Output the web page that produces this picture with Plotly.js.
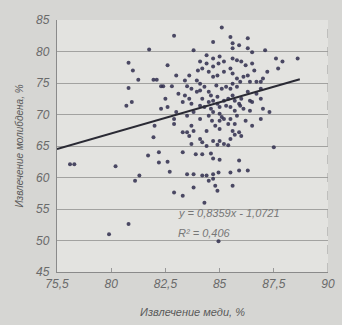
<!DOCTYPE html>
<html>
<head>
<meta charset="utf-8">
<script src="https://cdn.plot.ly/plotly-3.0.1.min.js"></script>
<style>
html,body{margin:0;padding:0;background:#d6d6d3;}
#chart{width:342px;height:325px;}
</style>
</head>
<body>
<div id="chart"></div>
<script>
var copperX = [78.1,78.3,80.2,79.9,80.8,81.1,81.3,80.8,81.0,81.25,80.8,80.7,80.95,81.75,82.9,81.95,82.1,82.6,82.3,82.4,82.8,82.0,81.95,81.7,82.2,82.2,82.6,82.7,82.5,82.3,82.6,83.0,83.1,82.9,82.9,83.3,83.5,82.9,83.3,83.8,83.8,85.1,84.7,85.5,85.6,86.3,87.1,87.6,87.9,87.7,88.6,86.9,87.0,87.3,86.9,87.5,85.9,85.9,86.3,85.5,84.95,84.7,85.6,84.3,84.95,84.7,84.8,84.9,84.4,84.5,83.8,84.2,83.9,84.2,83.7,84.2,84.4,84.7,84.9,85.0,85.2,85.0,85.5,85.7,85.9,86.0,85.4,83.8,83.7,84.4,84.8,84.1,83.8,83.5,84.7,85.0,85.2,85.5,85.7,85.0,86.1,86.4,86.0,86.4,84.1,84.4,84.7,85.0,85.2,85.6,85.8,86.0,86.2,86.5,86.6,84.2,84.5,84.7,84.9,85.2,85.5,85.6,85.8,85.95,86.1,86.3,86.4,86.7,86.9,83.95,84.1,83.7,83.95,84.1,84.3,84.5,84.6,84.85,85.1,85.3,85.5,85.6,85.8,83.4,83.6,84.2,84.5,84.7,84.9,85.2,85.4,85.6,85.7,85.9,84.1,84.3,84.6,84.9,85.0,85.3,85.5,85.7,85.95,83.5,83.6,84.1,84.5,84.65,85.0,85.1,85.4,83.3,83.0,83.3,83.7,83.4,83.6,83.5,84.0,84.7,84.95,84.4,85.6,85.9,86.3,86.5,87.0,87.2,86.9,86.7,86.5,86.3,86.2,85.8,86.5,85.6,84.6,84.7];
var molybdenumY = [62.1,62.1,61.8,51.0,52.6,59.5,60.3,78.2,77.0,75.5,74.2,71.4,72.0,80.3,82.5,75.5,75.5,77.8,74.5,74.5,74.5,68.2,66.4,63.5,64.0,62.4,62.5,60.9,72.5,70.9,71.2,76.2,73.3,69.3,68.5,64.0,60.5,57.6,57.1,58.4,80.2,83.8,81.5,82.3,81.3,82.1,80.2,78.9,78.4,77.3,78.9,72.5,70.9,70.4,69.3,64.8,62.7,61.1,61.1,60.8,60.8,60.5,58.7,56.0,49.9,59.8,58.7,57.9,60.3,59.5,60.5,60.3,63.7,63.7,65.3,65.6,65.0,65.8,65.2,65.8,65.3,62.8,66.1,66.8,67.2,66.6,65.1,67.4,68.2,67.4,68.2,69.3,70.4,69.8,70.4,70.1,69.3,69.3,68.5,67.7,70.9,70.6,72.5,72.2,78.4,78.1,78.9,79.2,78.4,78.9,78.6,78.4,77.8,78.1,77.0,77.3,76.8,76.0,76.2,76.8,77.3,76.5,75.7,75.2,76.0,76.2,75.2,75.2,75.2,75.4,74.9,74.1,73.6,73.8,74.4,73.6,73.0,74.6,74.1,74.4,74.1,74.9,74.4,73.0,72.5,72.5,72.0,72.2,72.8,72.2,72.5,73.0,72.2,71.7,71.4,71.2,70.9,71.7,71.2,71.4,71.2,70.6,71.4,67.2,66.6,66.1,69.8,69.0,69.0,69.6,68.5,67.2,70.4,72.0,71.7,75.4,76.2,74.5,77.0,77.6,78.1,79.4,80.5,81.0,80.5,79.9,75.7,76.8,74.1,73.3,72.0,73.6,69.0,69.8,68.2,67.4,63.8,63.0];
var trendX = [77.5, 88.7];
var trendY = [64.5, 75.6];
var xTickVals = [77.5, 80, 82.5, 85, 87.5, 90];
var xTickText = ['75,5', '80', '82,5', '85', '87,5', '90'];
var yTickVals = [45, 50, 55, 60, 65, 70, 75, 80, 85];
var equationText = 'y = 0,8359x - 1,0721';
var r2Text = 'R² = 0,406';

var fontFam = 'Liberation Sans, Arial, sans-serif';
var data = [
  {x: copperX, y: molybdenumY, type: 'scatter', mode: 'markers',
   marker: {size: 4, color: '#2f2d4c', opacity: 0.85}, hoverinfo: 'none'},
  {x: trendX, y: trendY, type: 'scatter', mode: 'lines',
   line: {color: '#2a2a34', width: 2}, hoverinfo: 'none'}
];
var layout = {
  width: 342, height: 325,
  margin: {l: 57, r: 14, t: 20, b: 53},
  paper_bgcolor: '#d6d6d3',
  plot_bgcolor: '#e3e3e0',
  showlegend: false,
  font: {family: fontFam, color: '#6a6a6a'},
  xaxis: {
    range: [77.5, 90], tickvals: xTickVals, ticktext: xTickText,
    showgrid: false, zeroline: false,
    showline: true, linecolor: '#8a8a8a', linewidth: 1.2,
    ticks: 'inside', ticklen: 4, tickcolor: '#999',
    tickfont: {size: 12, family: fontFam, color: '#6a6a6a', style: 'italic'},
    title: {text: 'Извлечение меди, %', standoff: 18,
            font: {size: 11, family: fontFam, color: '#5a5a5a', style: 'italic'}}
  },
  yaxis: {
    range: [45, 85], tickvals: yTickVals,
    showgrid: true, gridcolor: '#a2a2a0', gridwidth: 1, zeroline: false,
    showline: true, linecolor: '#8a8a8a', linewidth: 1.2,
    ticks: '', ticklabelstandoff: 4,
    tickfont: {size: 12, family: fontFam, color: '#6a6a6a', style: 'italic'},
    title: {text: 'Извлечение молибдена, %', standoff: 10,
            font: {size: 10, family: fontFam, color: '#5a5a5a', style: 'italic'}}
  },
  shapes: [
    {type: 'line', xref: 'x', yref: 'y', x0: 90, x1: 90, y0: 45, y1: 85,
     line: {color: '#9a9a9a', width: 1, dash: 'dash'}}
  ],
  annotations: [
    {x: 83.0, y: 54.4, xref: 'x', yref: 'y', xanchor: 'left', yanchor: 'middle',
     text: equationText, showarrow: false,
     font: {size: 11, family: fontFam, color: '#777', style: 'italic'}},
    {x: 83.0, y: 51.2, xref: 'x', yref: 'y', xanchor: 'left', yanchor: 'middle',
     text: r2Text, showarrow: false,
     font: {size: 11, family: fontFam, color: '#777', style: 'italic'}}
  ]
};
Plotly.newPlot('chart', data, layout, {displayModeBar: false, staticPlot: true});
</script>
</body>
</html>
